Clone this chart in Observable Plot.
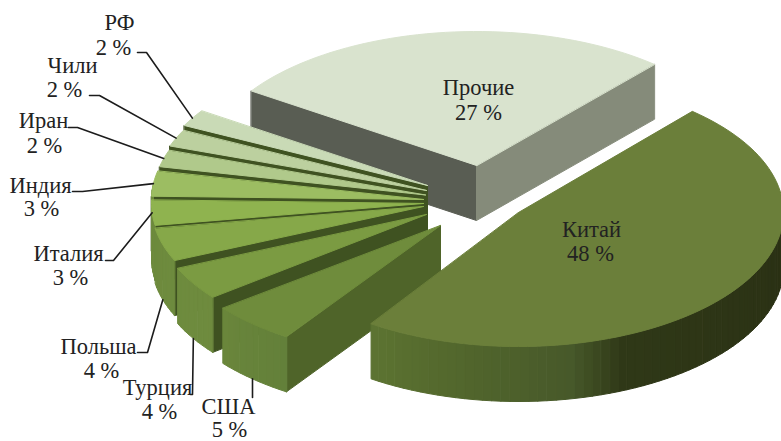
<!DOCTYPE html>
<html>
<head>
<meta charset="utf-8">
<script src="https://cdn.jsdelivr.net/npm/d3@7"></script>
<script src="https://cdn.jsdelivr.net/npm/@observablehq/plot@0.6"></script>
<style>html,body{margin:0;padding:0;background:#fff}svg{display:block}svg text{font-family:"Liberation Serif","Times New Roman",serif !important}</style>
</head>
<body>
<div id="chart"></div>
<script>
// Data, clockwise from the top-right edge of the largest slice
const countries = ["Китай","США","Турция","Польша","Италия","Индия","Иран","Чили","РФ","Прочие"];
const shares    = [48,5,4,4,3,3,2,2,2,27];
const topColors = ["#6b7f3a","#6f8c3c","#7b9b42","#86a849","#8fb34f","#9cbd62","#b0c98b","#bcd09f","#c9dab6","#d9e3ce"];

// Layout of the exploded 3D pie
const W = 781, H = 441, DEPTH = 55, START_DEG = 41;
const apexX = [518,440,426,423,423,423,425,426,427,476];
const apexY = [212,225,214,206,203,199,194.5,190,185,165];
const radiusX = [265,277,272,272,272,272,272,272,272,271];
const RY = 134;
const CUT = "#3f5221";
const cutColors = ["#4d6229","#4f6429",CUT,CUT,CUT,CUT,CUT,CUT,CUT,"#858b7a"];
const wallStops = {
  "Китай": [[90,"#2a3014"],[157,"#2f3817"],[169,"#47592a"],[197,"#54692d"],[214,"#5d7432"]],
  "США": [[214,"#63803a"],[232,"#6a863b"]]
};

const arcs = d3.pie().sort(null).startAngle(START_DEG*Math.PI/180).endAngle((START_DEG+360)*Math.PI/180)(shares);
const slices = countries.map((name,i)=>({
  name, i, a0:arcs[i].startAngle, a1:arcs[i].endAngle,
  cx:apexX[i], cy:apexY[i], rx:radiusX[i], top:topColors[i], cut:cutColors[i]
}));
const px = (s,a,d=0)=>[s.cx+s.rx*Math.sin(a), s.cy-RY*Math.cos(a)+d];
const rows = [];
let fid = 0;
const poly = (pts,fill)=>{const id=fid++;pts.forEach(p=>rows.push({id,x:p[0],y:p[1],fill}));};
const arcPts = (s,a0,a1,d=0)=>{const n=Math.max(2,Math.ceil((a1-a0)/(Math.PI/90)));return d3.range(n+1).map(k=>px(s,a0+(a1-a0)*k/n,d));};

function wallColor(name,deg){
  const stops = wallStops[name] || [[0,"#6e8b3e"],[360,"#6e8b3e"]];
  const sc = d3.scaleLinear().domain(stops.map(d=>d[0])).range(stops.map(d=>d[1])).clamp(true);
  return d3.color(sc(deg)).formatHex();
}
function drawSlice(s){
  const apex=[s.cx,s.cy], apexB=[s.cx,s.cy+DEPTH];
  if(s.name==="Прочие"){
    const p0=px(s,s.a0), p1=px(s,s.a1);
    poly([p0,apex,apexB,[p0[0],p0[1]+DEPTH]],"#595d53");
    poly([p1,apex,apexB,[p1[0],p1[1]+DEPTH]],"#858b7a");
  } else if(s.name!=="Китай"){
    const p0=px(s,s.a0);
    poly([p0,apex,apexB,[p0[0],p0[1]+DEPTH]],s.cut);
  }
  const w0=Math.max(s.a0,Math.PI/2), w1=Math.min(s.a1,Math.PI*1.5+0.12);
  if(s.name!=="Прочие" && w1>w0){
    const n=Math.max(4,Math.ceil((w1-w0)/(Math.PI/90)));
    for(let k=0;k<n;k++){
      const a=w0+(w1-w0)*k/n, b=w0+(w1-w0)*(k+1)/n;
      poly([px(s,a),px(s,b),px(s,b,DEPTH),px(s,a,DEPTH)],wallColor(s.name,(a+b)/2*180/Math.PI));
    }
  }
  poly([apex,...arcPts(s,s.a0,s.a1)],s.top);
}
// back to front
[9,8,7,6,5,4,3,2,1,0].forEach(i=>drawSlice(slices[i]));

// Labels
const labelRows = [
  {name:"Китай", nx:591, ny:229, px:590, py:253},
  {name:"США", nx:228, ny:406, px:229, py:429},
  {name:"Турция", nx:157, ny:387, px:159, py:411},
  {name:"Польша", nx:98, ny:346, px:101, py:370},
  {name:"Италия", nx:68, ny:253, px:70, py:277},
  {name:"Индия", nx:40, ny:185, px:41, py:208},
  {name:"Иран", nx:43, ny:120, px:44, py:145},
  {name:"Чили", nx:72, ny:65, px:64, py:89},
  {name:"РФ", nx:119, ny:22, px:113, py:47},
  {name:"Прочие", nx:478, ny:87, px:478, py:112}
];
const texts = labelRows.flatMap((l,i)=>[
  {x:l.nx,y:l.ny,t:l.name},
  {x:l.px,y:l.py,t:shares[i]+" %"}
]);

// Leader lines: label tail, elbow, then the middle of the slice's rim
const leaderSpec = [
  {name:"РФ", from:[137,52], elbow:[146,52], wall:0},
  {name:"Чили", from:[89,95], elbow:[99,95], wall:0},
  {name:"Иран", from:[68,127], elbow:[77,127], wall:0},
  {name:"Индия", from:[72,191], elbow:[82,191], wall:0},
  {name:"Италия", from:[105,260], elbow:[113,260], wall:0},
  {name:"Польша", from:[137,352], elbow:[147,352], wall:1},
  {name:"Турция", from:[190,394], elbow:[192,394], wall:1},
  {name:"США", from:[252,397], elbow:[252,397], wall:1, vertical:true}
];
const leaders = leaderSpec.flatMap((l,k)=>{
  const s=slices[countries.indexOf(l.name)];
  const e=px(s,(s.a0+s.a1)/2,l.wall?DEPTH:0);
  if(l.vertical) e[0]=l.elbow[0];
  return [l.from,l.elbow,e].map(p=>({k,x:p[0],y:p[1]}));
});

const plot = Plot.plot({
  width:W, height:H, margin:0,
  x:{domain:[0,W],range:[0,W],axis:null},
  y:{domain:[0,H],range:[0,H],axis:null},
  color:{type:"identity"},
  style:{background:"#fff",overflow:"hidden"},
  marks:[
    Plot.line(rows,{x:"x",y:"y",z:"id",fill:"fill",stroke:"fill",strokeWidth:1,curve:"linear-closed"}),
    Plot.line(leaders,{x:"x",y:"y",z:"k",stroke:"#1c1c1c",strokeWidth:1.6,curve:"linear"}),
    Plot.text(texts,{x:"x",y:"y",text:"t",fontFamily:"Liberation Serif",fontSize:22.5,fill:"#222",textAnchor:"middle",lineAnchor:"middle"})
  ]
});
document.getElementById("chart").appendChild(plot);
</script>
</body>
</html>
